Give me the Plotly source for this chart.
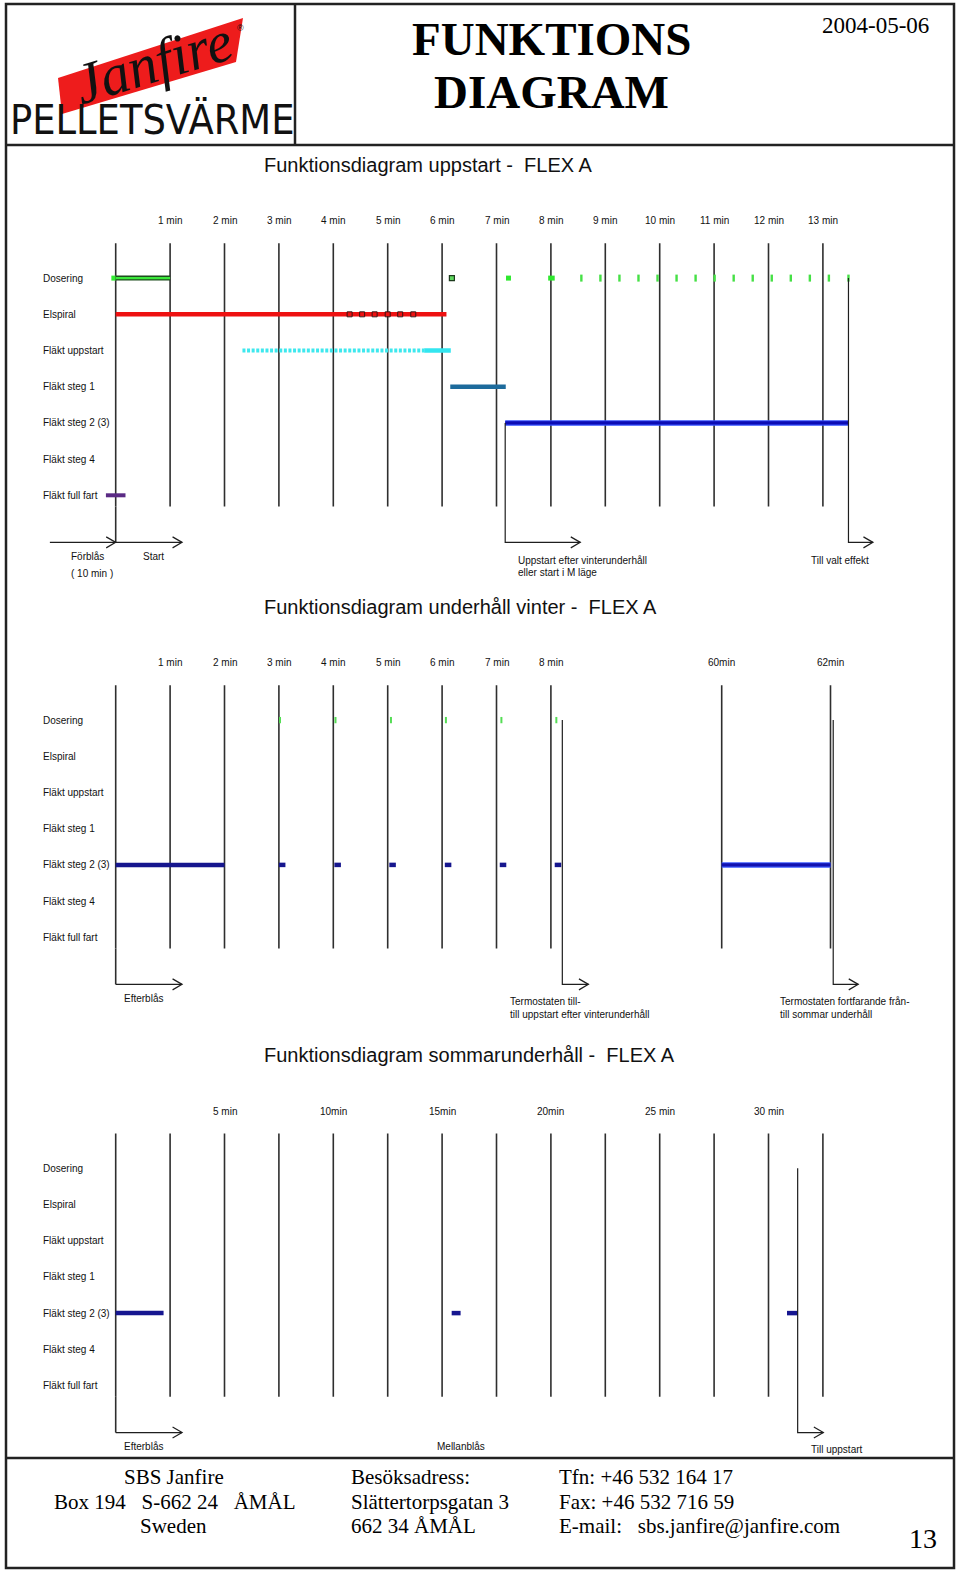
import plotly.graph_objects as go

W, H = 960, 1573

# ---------------- data ----------------
rows = ["Dosering", "Elspiral", "Fläkt uppstart", "Fläkt steg 1",
        "Fläkt steg 2 (3)", "Fläkt steg 4", "Fläkt full fart"]

# Diagram 1 : uppstart (minutes)
d1_title = "Funktionsdiagram uppstart -\u00a0\u00a0FLEX A"
d1_grid = [0, 1, 2, 3, 4, 5, 6, 7, 8, 9, 10, 11, 12, 13]
d1_tick_vals = [1, 2, 3, 4, 5, 6, 7, 8, 9, 10, 11, 12, 13]
d1_tick_text = ["1 min", "2 min", "3 min", "4 min", "5 min", "6 min", "7 min",
                "8 min", "9 min", "10 min", "11 min", "12 min", "13 min"]
d1_dos_lead = [-0.08, 0.0]
d1_dos_bar = [0.0, 1.0]
d1_dos_hollow = [6.18]
d1_dos_square = [7.22]
d1_dos_wide = [7.95, 8.07]
d1_dos_ticks = [8.56, 8.91, 9.26, 9.61, 9.96, 10.31, 10.66, 11.01, 11.36,
                11.71, 12.06, 12.41, 12.76, 13.11, 13.47]
d1_elspiral = [0.0, 6.08]
d1_elspiral_marks = [4.30, 4.53, 4.76, 5.00, 5.23, 5.47]
d1_uppstart_dotted = [2.33, 5.67]
d1_uppstart_solid = [5.67, 6.16]
d1_steg1 = [6.15, 7.17]
d1_steg2 = [7.16, 13.47]
d1_fullfart = [-0.18, 0.18]
d1_forblas = [-1.21, 0.0]
d1_start = [0.0, 1.22]
d1_uppstart_event = [7.16, 8.54]
d1_end_event = [13.47, 13.92]

# Diagram 2 : underhåll vinter (minutes, broken axis)
d2_title = "Funktionsdiagram underhåll vinter -\u00a0\u00a0FLEX A"
d2_grid_a = [0, 1, 2, 3, 4, 5, 6, 7, 8]
d2_grid_b = [60, 62]
d2_tick_vals_a = [1, 2, 3, 4, 5, 6, 7, 8]
d2_tick_text_a = ["1 min", "2 min", "3 min", "4 min", "5 min", "6 min", "7 min", "8 min"]
d2_tick_vals_b = [60, 62]
d2_tick_text_b = ["60min", "62min"]
d2_dos_ticks = [3.02, 4.04, 5.06, 6.07, 7.09, 8.10]
d2_steg2_a = [(0.0, 2.0), (3.0, 3.12), (4.02, 4.14), (5.03, 5.15),
              (6.05, 6.17), (7.06, 7.18), (8.07, 8.19)]
d2_steg2_b = [60.0, 62.0]
d2_efterblas = [0.0, 1.22]
d2_termo_till = [8.21, 8.69]
d2_termo_fran = [62.05, 62.51]

# Diagram 3 : sommarunderhåll (minutes)
d3_title = "Funktionsdiagram sommarunderhåll -\u00a0\u00a0FLEX A"
d3_grid = [0, 2.5, 5, 7.5, 10, 12.5, 15, 17.5, 20, 22.5, 25, 27.5, 30, 32.5]
d3_tick_vals = [5, 10, 15, 20, 25, 30]
d3_tick_text = ["5 min", "10min", "15min", "20min", "25 min", "30 min"]
d3_steg2 = [(0.0, 2.2), (15.44, 15.85), (30.85, 31.34)]
d3_efterblas = [0.0, 3.05]
d3_till_uppstart = [31.34, 32.52]

# ---------------- layout constants ----------------
ROW = 36.2           # px per row
X0 = 115.7           # px of time zero
K1 = 54.4            # px per minute (diagram 1, 2)
K3 = 21.76           # px per minute (diagram 3)
ROW0 = {"y": 278.1, "y2": 720.1, "y3": 1168.3}
GRID_TOP, GRID_BOT, ARROW_ROW = -0.96, 6.31, 7.30
TICK_ROW, TITLE_ROW = -1.58, -3.13

FONT = "Liberation Sans, Arial, sans-serif"
SERIF = "Liberation Serif, Times New Roman, serif"
GRID_C = "#2e2e2e"
LINE_C = "#1e1e1e"
NOTE = 10

fig = go.Figure()


def add_line(xs, ys, xa, ya, color, width, dash=None):
    fig.add_trace(go.Scatter(x=xs, y=ys, mode="lines", xaxis=xa, yaxis=ya,
                             line=dict(color=color, width=width, dash=dash),
                             hoverinfo="skip", showlegend=False))


def add_markers(xs, row, xa, ya, marker):
    fig.add_trace(go.Scatter(x=xs, y=[row] * len(xs), mode="markers", xaxis=xa, yaxis=ya,
                             marker=marker, hoverinfo="skip", showlegend=False))


def grid(vals, xa, ya):
    xs, ys = [], []
    for v in vals:
        xs += [v, v, None]
        ys += [GRID_TOP, GRID_BOT, None]
    add_line(xs, ys, xa, ya, GRID_C, 1.6)


def h_arrow(x_from, x_to, xa, ya, k):
    add_line([x_from, x_to, None, x_to - 9.5 / k, x_to, x_to - 9.5 / k],
             [ARROW_ROW, ARROW_ROW, None, ARROW_ROW - 5.5 / ROW, ARROW_ROW, ARROW_ROW + 5.5 / ROW],
             xa, ya, LINE_C, 1.2)


def event_arrow(x_start, x_end, row_from, xa, ya, k):
    # vertical drop, horizontal run and open chevron head
    xs = [x_start, x_start, x_end, None,
          x_end - 9.5 / k, x_end, x_end - 9.5 / k]
    ys = [row_from, ARROW_ROW, ARROW_ROW, None,
          ARROW_ROW - 5.5 / ROW, ARROW_ROW, ARROW_ROW + 5.5 / ROW]
    add_line(xs, ys, xa, ya, LINE_C, 1.2)


annotations = []


def txt(x, y, text, size, xref="paper", yref="paper", xanchor="left", family=FONT,
        color="#111", bold=False, italic=False, angle=0):
    annotations.append(dict(x=x, y=y, xref=xref, yref=yref, text=text, showarrow=False,
                            xanchor=xanchor, yanchor="middle", textangle=angle,
                            font=dict(family=family, size=size, color=color,
                                      weight="bold" if bold else "normal",
                                      style="italic" if italic else "normal")))


def px(x):
    return x / W


def py(y):
    return 1 - y / H


def row_labels(ya):
    for i, r in enumerate(rows):
        txt(px(41), i, r, 10, yref=ya)


# ---------------- Diagram 1 ----------------
grid(d1_grid, "x", "y")
add_line([0, 0], [GRID_BOT, ARROW_ROW], "x", "y", GRID_C, 1.6)
for v, t in zip(d1_tick_vals, d1_tick_text):
    txt(v, TICK_ROW, t, 10, xref="x", yref="y", xanchor="center")
row_labels("y")
txt(px(262), TITLE_ROW, d1_title, 20, yref="y")

# Dosering
add_line(d1_dos_lead, [0, 0], "x", "y", "#33ee33", 5)
add_line(d1_dos_bar, [0, 0], "x", "y", "#1d4d1d", 5)
add_line(d1_dos_bar, [0, 0], "x", "y", "#3be83b", 2.4)
add_markers(d1_dos_hollow, 0, "x", "y",
            dict(symbol="square", size=5, color="#5fd85f", line=dict(color="#1d3a1d", width=1.2)))
add_markers(d1_dos_square, 0, "x", "y", dict(symbol="square", size=5, color="#2ee82e"))
add_line(d1_dos_wide, [0, 0], "x", "y", "#2ee82e", 5)
add_markers(d1_dos_ticks, 0, "x", "y",
            dict(symbol="line-ns", size=5, line=dict(color="#45e045", width=2.4)))
# Elspiral
add_line(d1_elspiral, [1, 1], "x", "y", "#ee1111", 4.5)
add_markers(d1_elspiral_marks, 1, "x", "y",
            dict(symbol="square-open", size=5, color="#3a1212", line=dict(width=1)))
# Fläkt uppstart
add_line(d1_uppstart_dotted, [2, 2], "x", "y", "#3ee8ee", 4, dash="3px,1.6px")
add_line(d1_uppstart_solid, [2, 2], "x", "y", "#33e6f0", 4.5)
# Fläkt steg 1
add_line(d1_steg1, [3, 3], "x", "y", "#1d6b9c", 4.5)
# Fläkt steg 2 (3)
add_line(d1_steg2, [4, 4], "x", "y", "#3550ff", 5.5)
add_line(d1_steg2, [4, 4], "x", "y", "#0c0cb4", 3.2)
# Fläkt full fart
add_line(d1_fullfart, [6, 6], "x", "y", "#5a2a84", 4)

# arrows
h_arrow(d1_forblas[0], d1_forblas[1], "x", "y", K1)
h_arrow(d1_start[0], d1_start[1], "x", "y", K1)
event_arrow(d1_uppstart_event[0], d1_uppstart_event[1], 4, "x", "y", K1)
event_arrow(d1_end_event[0], d1_end_event[1], 0, "x", "y", K1)

txt(px(69), 7.70, "Förblås", NOTE, yref="y")
txt(px(69), 8.17, "(\u00a010 min\u00a0)", NOTE, yref="y")
txt(px(141), 7.70, "Start", NOTE, yref="y")
txt(px(516), 7.79, "Uppstart efter vinterunderhåll", NOTE, yref="y")
txt(px(516), 8.12, "eller start i M läge", NOTE, yref="y")
txt(px(809), 7.79, "Till valt effekt", NOTE, yref="y")

# ---------------- Diagram 2 ----------------
grid(d2_grid_a, "x2", "y2")
grid(d2_grid_b, "x3", "y2")
add_line([0, 0], [GRID_BOT, ARROW_ROW], "x2", "y2", GRID_C, 1.6)
for v, t in zip(d2_tick_vals_a, d2_tick_text_a):
    txt(v, TICK_ROW, t, 10, xref="x2", yref="y2", xanchor="center")
for v, t in zip(d2_tick_vals_b, d2_tick_text_b):
    txt(v, TICK_ROW, t, 10, xref="x3", yref="y2", xanchor="center")
row_labels("y2")
txt(px(262), TITLE_ROW, d2_title, 20, yref="y2")

add_markers(d2_dos_ticks, 0, "x2", "y2",
            dict(symbol="line-ns", size=4.5, line=dict(color="#55dd55", width=2)))
xs, ys = [], []
for a, b in d2_steg2_a:
    xs += [a, b, None]
    ys += [4, 4, None]
add_line(xs, ys, "x2", "y2", "#16168e", 4.5)
add_line(d2_steg2_b, [4, 4], "x3", "y2", "#3f5cff", 5.5)
add_line(d2_steg2_b, [4, 4], "x3", "y2", "#1212b0", 3.2)

h_arrow(d2_efterblas[0], d2_efterblas[1], "x2", "y2", K1)
event_arrow(d2_termo_till[0], d2_termo_till[1], 0, "x2", "y2", K1)
event_arrow(d2_termo_fran[0], d2_termo_fran[1], 0, "x3", "y2", K1)

txt(px(122), 7.70, "Efterblås", NOTE, yref="y2")
txt(px(508), 7.76, "Termostaten till-", NOTE, yref="y2")
txt(px(508), 8.12, "till uppstart efter vinterunderhåll", NOTE, yref="y2")
txt(px(778), 7.76, "Termostaten fortfarande från-", NOTE, yref="y2")
txt(px(778), 8.12, "till sommar underhåll", NOTE, yref="y2")

# ---------------- Diagram 3 ----------------
grid(d3_grid, "x4", "y3")
add_line([0, 0], [GRID_BOT, ARROW_ROW], "x4", "y3", GRID_C, 1.6)
for v, t in zip(d3_tick_vals, d3_tick_text):
    txt(v, TICK_ROW, t, 10, xref="x4", yref="y3", xanchor="center")
row_labels("y3")
txt(px(262), TITLE_ROW, d3_title, 20, yref="y3")

xs, ys = [], []
for a, b in d3_steg2:
    xs += [a, b, None]
    ys += [4, 4, None]
add_line(xs, ys, "x4", "y3", "#161690", 4.5)

h_arrow(d3_efterblas[0], d3_efterblas[1], "x4", "y3", K3)
event_arrow(d3_till_uppstart[0], d3_till_uppstart[1], 0, "x4", "y3", K3)

txt(px(122), 7.69, "Efterblås", NOTE, yref="y3")
txt(px(435), 7.69, "Mellanblås", NOTE, yref="y3")
txt(px(809), 7.77, "Till uppstart", NOTE, yref="y3")

# ---------------- header / footer ----------------
shapes = []
BORDER = "#222"
shapes.append(dict(type="rect", xref="paper", yref="paper", x0=px(6), x1=px(954),
                   y0=py(4), y1=py(1568), line=dict(color=BORDER, width=2.5)))
shapes.append(dict(type="line", xref="paper", yref="paper", x0=px(6), x1=px(954),
                   y0=py(145), y1=py(145), line=dict(color=BORDER, width=2.5)))
shapes.append(dict(type="line", xref="paper", yref="paper", x0=px(295), x1=px(295),
                   y0=py(4), y1=py(145), line=dict(color=BORDER, width=2.5)))
shapes.append(dict(type="line", xref="paper", yref="paper", x0=px(6), x1=px(954),
                   y0=py(1458), y1=py(1458), line=dict(color=BORDER, width=2.5)))
# red logo banner
banner = [(58, 78), (243, 18), (236, 62), (62, 114)]
path = "M " + " L ".join(f"{px(a):.5f},{py(b):.5f}" for a, b in banner) + " Z"
shapes.append(dict(type="path", xref="paper", yref="paper", path=path,
                   fillcolor="#ee1c1c", line=dict(width=0), layer="below"))

txt(px(153), py(62), "Janfire", 58, family="Liberation Serif, serif", italic=True,
    xanchor="center", angle=-17, color="#111")
txt(px(240), py(28), "®", 9, xanchor="center", color="#111")
txt(px(152), py(120), "PELLETSVÄRME", 41,
    family="Liberation Sans Narrow, DejaVu Sans Condensed, Roboto Condensed, Arial Narrow, sans-serif",
    xanchor="center", color="#111")

txt(px(551), py(39), "FUNKTIONS", 47, family=SERIF, bold=True, xanchor="center", color="#000")
txt(px(551), py(92), "DIAGRAM", 47, family=SERIF, bold=True, xanchor="center", color="#000")
txt(px(875), py(25), "2004-05-06", 23, family=SERIF, xanchor="center", color="#000")

txt(px(173.5), py(1477), "SBS Janfire", 21, family=SERIF, xanchor="center", color="#000")
txt(px(52), py(1501.5), "Box 194\u00a0\u00a0 S-662 24\u00a0\u00a0 ÅMÅL", 21, family=SERIF, color="#000")
txt(px(173.5), py(1526), "Sweden", 21, family=SERIF, xanchor="center", color="#000")
txt(px(349), py(1477), "Besöksadress:", 21, family=SERIF, color="#000")
txt(px(349), py(1501.5), "Slättertorpsgatan 3", 21, family=SERIF, color="#000")
txt(px(349), py(1526), "662 34 ÅMÅL", 21, family=SERIF, color="#000")
txt(px(557), py(1477), "Tfn: +46 532 164 17", 21, family=SERIF, color="#000")
txt(px(557), py(1501.5), "Fax: +46 532 716 59", 21, family=SERIF, color="#000")
txt(px(557), py(1526), "E-mail:\u00a0\u00a0 sbs.janfire@janfire.com", 21, family=SERIF, color="#000")
txt(px(923), py(1538), "13", 28, family=SERIF, xanchor="center", color="#000")

ax_common = dict(visible=False, fixedrange=True, showgrid=False, zeroline=False)
fig.update_layout(
    width=W, height=H,
    margin=dict(l=0, r=0, t=0, b=0),
    paper_bgcolor="white", plot_bgcolor="rgba(0,0,0,0)",
    showlegend=False,
    xaxis=dict(domain=[0, 1], range=[-X0 / K1, (W - X0) / K1], anchor="y", **ax_common),
    yaxis=dict(domain=[0, 1], range=[(H - ROW0["y"]) / ROW, -ROW0["y"] / ROW], anchor="x", **ax_common),
    xaxis2=dict(domain=[0, 640 / W], range=[-X0 / K1, (640 - X0) / K1], anchor="y2", **ax_common),
    xaxis3=dict(domain=[640 / W, 1], range=[60 - (721.7 - 640) / K1, 60 + (W - 721.7) / K1],
                anchor="y2", **ax_common),
    yaxis2=dict(domain=[0, 1], range=[(H - ROW0["y2"]) / ROW, -ROW0["y2"] / ROW], anchor="x2", **ax_common),
    xaxis4=dict(domain=[0, 1], range=[-X0 / K3, (W - X0) / K3], anchor="y3", **ax_common),
    yaxis3=dict(domain=[0, 1], range=[(H - ROW0["y3"]) / ROW, -ROW0["y3"] / ROW], anchor="x4", **ax_common),
    annotations=annotations,
    shapes=shapes,
)

fig.write_html("out.html", config={"displayModeBar": False},
               post_script="document.body.style.margin='0';document.body.style.overflow='hidden';")
